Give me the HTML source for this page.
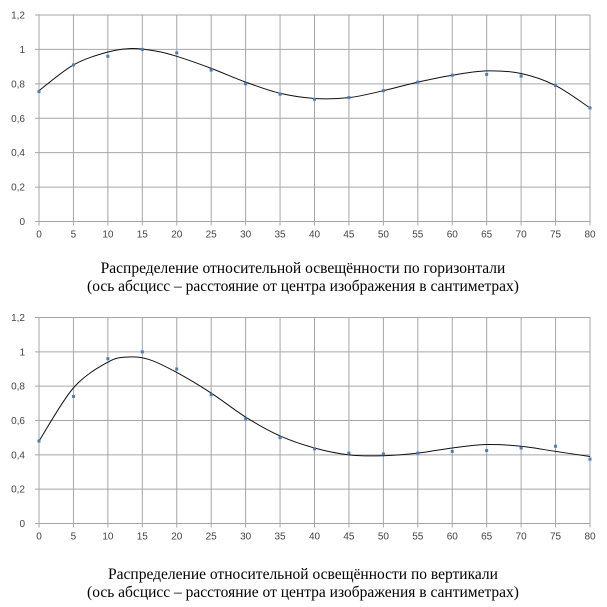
<!DOCTYPE html>
<html><head><meta charset="utf-8"><style>
html,body{margin:0;padding:0;background:#fff;width:607px;height:607px;overflow:hidden}
svg{display:block}
</style></head><body>
<svg id="s" width="607" height="607" xmlns="http://www.w3.org/2000/svg"></svg>
<script>
const s=document.getElementById('s');let h='';
function chart(y0,y12,curve,pts,cap1,cap2,capY){
 const x0=39,x80=590;
 const X=v=>x0+(x80-x0)*v/80, Y=v=>y0-(y0-y12)*v/1.2;
 for(let i=0;i<=16;i++){const x=X(i*5);h+=`<line x1="${x}" y1="${y12}" x2="${x}" y2="${y0+4}" stroke="#a6a6a6" stroke-width="1"/>`;
  h+=`<text x="${x}" y="${y0+16}" font-family="Liberation Sans, sans-serif" font-size="10" fill="#444" text-anchor="middle">${i*5}</text>`;}
 for(let j=0;j<=6;j++){const v=j*0.2,y=Y(v);h+=`<line x1="${x0-4}" y1="${y}" x2="${x80}" y2="${y}" stroke="#a6a6a6" stroke-width="1"/>`;
  const t=j==0?'0':j==5?'1':v.toFixed(1).replace('.',',');
  h+=`<text x="${x0-14}" y="${y+3.5}" font-family="Liberation Sans, sans-serif" font-size="10" fill="#444" text-anchor="end">${t}</text>`;}
 const P=curve.map(p=>[X(p[0]),Y(p[1])]);
 let d=`M${P[0][0]},${P[0][1]}`;
 for(let i=0;i<P.length-1;i++){const p0=P[Math.max(0,i-1)],p1=P[i],p2=P[i+1],p3=P[Math.min(P.length-1,i+2)];
  d+=` C${p1[0]+(p2[0]-p0[0])/6},${p1[1]+(p2[1]-p0[1])/6} ${p2[0]-(p3[0]-p1[0])/6},${p2[1]-(p3[1]-p1[1])/6} ${p2[0]},${p2[1]}`;}
 h+=`<path d="${d}" fill="none" stroke="#111" stroke-width="1"/>`;
 pts.forEach((v,i)=>{h+=`<rect x="${X(i*5)-1.5}" y="${Y(v)-1.5}" width="3" height="3" fill="#4a7ebb"/>`;});
 h+=`<text x="303" y="${capY}" font-family="Liberation Serif, serif" font-size="15.5" text-anchor="middle" fill="#000">${cap1}</text>`;
 h+=`<text x="303" y="${capY+18}" font-family="Liberation Serif, serif" font-size="15.5" text-anchor="middle" fill="#000">${cap2}</text>`;
}
chart(221.5,15,
 [[0,0.76],[5,0.91],[10,0.985],[13.5,1.005],[17,0.99],[20,0.96],[25,0.89],[30,0.81],[35,0.745],[40,0.715],[45,0.72],[50,0.76],[55,0.81],[60,0.85],[65,0.875],[70,0.86],[75,0.79],[80,0.66]],
 [0.755,0.91,0.96,1.0,0.98,0.88,0.8,0.74,0.71,0.72,0.76,0.81,0.85,0.855,0.845,0.79,0.66],
 'Распределение относительной освещённости по горизонтали','(ось абсцисс – расстояние от центра изображения в сантиметрах)',273);
chart(523.5,317.5,
 [[0,0.48],[5,0.79],[10,0.94],[13,0.97],[16,0.955],[20,0.88],[25,0.76],[30,0.62],[35,0.51],[40,0.44],[45,0.40],[50,0.395],[55,0.41],[60,0.44],[65,0.46],[70,0.45],[75,0.42],[80,0.39]],
 [0.48,0.74,0.96,1.0,0.9,0.75,0.61,0.5,0.435,0.41,0.405,0.41,0.42,0.425,0.44,0.45,0.375],
 'Распределение относительной освещённости по вертикали','(ось абсцисс – расстояние от центра изображения в сантиметрах)',579);
s.innerHTML=h;
</script>
</body></html>
